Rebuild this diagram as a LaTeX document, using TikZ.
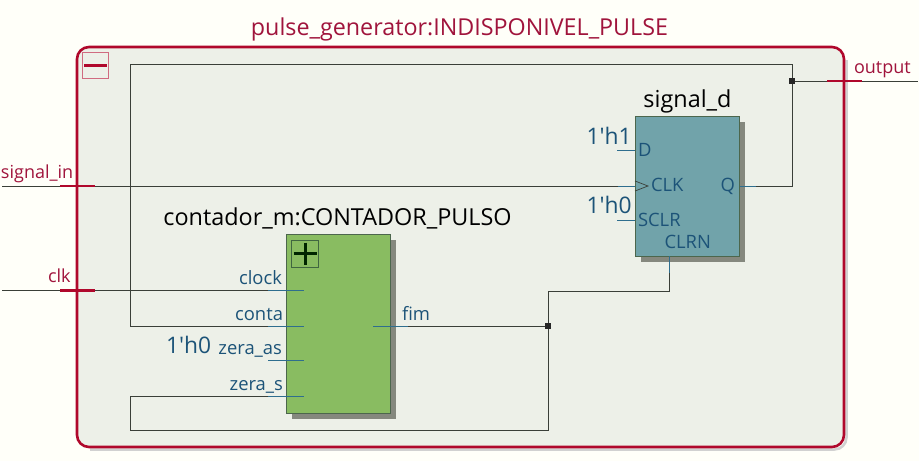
\documentclass[tikz,border=0pt]{standalone}
\usepackage{fontspec}
\setmainfont{Open Sans}
\newfontfamily\constf{Open Sans}
\definecolor{bgc}{HTML}{FFFFF9}
\definecolor{panel}{HTML}{EDF0E8}
\definecolor{redc}{HTML}{B0082C}
\definecolor{redt}{HTML}{A0143C}
\definecolor{wirec}{HTML}{3A3F38}
\definecolor{stubc}{HTML}{2F6E8E}
\definecolor{bluet}{HTML}{1C5378}
\definecolor{shadowc}{HTML}{85887E}
\definecolor{regc}{HTML}{71A3AA}
\definecolor{subc}{HTML}{89BC61}
\tikzset{
 x=1pt,y=-1pt,
 every node/.append style={outer sep=0pt},
 wire/.style={draw=wirec,line width=1pt},
 stub/.style={draw=stubc,line width=1pt},
 tick/.style={draw=redc,line width=2.4pt},
 junction/.style={fill=black!85,minimum size=6pt,inner sep=0pt,draw=none},
 redlabel/.style={text=redt,font=\fontsize{18}{20}\selectfont,inner sep=0pt},
 port/.style={text=bluet,font=\fontsize{18.4}{20}\selectfont,inner sep=0pt},
 const/.style={text=bluet,font=\constf\fontsize{22.8}{24}\selectfont,inner sep=0pt},
 title/.style={text=black,font=\fontsize{23.4}{26}\selectfont,inner sep=0pt},
 blockbox/.style={draw=black!75!green!40!gray,line width=1pt,inner sep=0pt,anchor=north west},
}
\begin{document}
\begin{tikzpicture}
\useasboundingbox[fill=bgc] (0,0) rectangle (919,461);
% outer frame
\draw[draw=black!18,line width=2.5pt,rounded corners=12pt] (846.5,60) -- (846.5,449.5) -- (90,449.5);
\node[draw=redc,fill=panel,line width=2.6pt,rounded corners=12pt,minimum width=767pt,minimum height=400pt,inner sep=0pt,anchor=north west] (frame) at (77,47) {};
\node[redlabel,font=\fontsize{23.3}{26}\selectfont] (ftitle) at (459.5,29.5) {pulse\_generator:INDISPONIVEL\_PULSE};
% collapse box
\node[draw=redc!60,line width=0.8pt,minimum size=26.5pt,inner sep=0pt,anchor=north west] (minusbox) at (82,52) {};
\draw[draw=redc,line width=3pt] (84,65) -- (106.5,65);
% coordinates
\coordinate (inS) at (2,186);
\coordinate (inC) at (2,290.5);
\coordinate (outE) at (918,81);
\coordinate (topL) at (130,64);
\coordinate (topR) at (792,64);
\coordinate (cornerQ) at (792,186);
\coordinate (loopBL) at (130,430);
\coordinate (loopBR) at (548,430);
\coordinate (loopTL) at (130,396);
\coordinate (midL) at (130,326);
\coordinate (stepA) at (548,291);
\coordinate (stepB) at (669.5,291);
% shadows
\fill[shadowc] (640.5,122) rectangle (745,261.5);
\fill[shadowc] (292,240) rectangle (396,419);
% blocks
\node[blockbox,fill=regc,minimum width=104.5pt,minimum height=139.5pt] (reg) at (635,116.5) {};
\node[blockbox,fill=subc,minimum width=104pt,minimum height=179pt] (sub) at (286.5,234.5) {};
\node[draw=black!70!green!50!gray,line width=0.9pt,minimum size=27pt,inner sep=0pt,anchor=north west] (plusbox) at (291,240) {};
\draw[draw=black!85!green,line width=3pt] (293.5,253.5) -- (316.5,253.5) (305,242.5) -- (305,264.5);
% port coordinates
\coordinate (pClk) at (304,290.5);
\coordinate (pConta) at (304,326);
\coordinate (pZas) at (304,360.5);
\coordinate (pZs) at (304,396);
\coordinate (pFim) at (373,326);
\coordinate (sClk) at (268,290.5);
\coordinate (sConta) at (268,326);
\coordinate (sZas) at (268,360.5);
\coordinate (sZs) at (268,396);
\coordinate (sFim) at (408,326);
\coordinate (rD) at (617,150.5);
\coordinate (rD2) at (635,150.5);
\coordinate (rC) at (618,186);
\coordinate (rC2) at (635,186);
\coordinate (rS) at (617,220.5);
\coordinate (rS2) at (635,220.5);
\coordinate (rQ) at (739.5,186);
\coordinate (rQ2) at (756,186);
\coordinate (rR) at (669.5,256);
\coordinate (rR2) at (669.5,273);
% wires
\draw[wire] (inS) -- (rC);
\draw[wire] (inC) -- (sClk);
\draw[wire] (sConta) -- (midL) -- (topL) -- (topR) -- (cornerQ) -- (rQ2);
\draw[wire] (sFim) -- (loopBR |- sFim) -- (stepA) -- (stepB) -- (rR2);
\draw[wire] (loopBR |- sFim) -- (loopBR) -- (loopBL) -- (loopTL) -- (sZs);
\draw[wire] (topR |- outE) -- (outE);
% stubs
\draw[stub] (sClk) -- (pClk);
\draw[stub] (sConta) -- (pConta);
\draw[stub] (sZas) -- (pZas);
\draw[stub] (sZs) -- (pZs);
\draw[stub] (pFim) -- (sFim);
\draw[stub] (rD) -- (rD2);
\draw[stub] (rC) -- (rC2);
\draw[stub] (rS) -- (rS2);
\draw[stub] (rQ) -- (rQ2);
\draw[stub] (rR) -- (rR2);
\draw[draw=wirec,line width=0.7pt] (635,181) -- (648,186) -- (635,191);
% junctions
\node[junction] (j1) at (792,81) {};
\node[junction] (j2) at (548,326) {};
% io ticks
\draw[tick] (60,186) -- (95,186);
\draw[tick] (60,290.5) -- (95,290.5);
\draw[tick] (827,81) -- (861.5,81);
% labels
\node[redlabel,anchor=base west] (lsig) at (1,178.5) {signal\_in};
\node[redlabel,anchor=base west] (lclk) at (48,282.5) {clk};
\node[redlabel,anchor=base west] (lout) at (854,73.5) {output};
\node[title,anchor=base] (treg) at (687.5,107.5) {signal\_d};
\node[title,anchor=base] (tsub) at (337.5,225.5) {contador\_m:CONTADOR\_PULSO};
\node[const,anchor=base west] (c1) at (586.5,144) {1'h1};
\node[const,anchor=base west] (c2) at (586.5,213) {1'h0};
\node[const,anchor=base west] (c3) at (166,353) {1'h0};
\node[port,anchor=base west] (pd) at (638,156.5) {D};
\node[port,anchor=base west] (pc) at (651,191) {CLK};
\node[port,anchor=base west] (ps) at (638,226) {SCLR};
\node[port,anchor=base west] (pr) at (664.5,248) {CLRN};
\node[port,anchor=base east] (pq) at (735,191) {Q};
\node[port,anchor=base east] (l1) at (282,284.5) {clock};
\node[port,anchor=base east] (l2) at (283,320) {conta};
\node[port,anchor=base east] (l3) at (282,354.5) {zera\_as};
\node[port,anchor=base east] (l4) at (283,390) {zera\_s};
\node[port,anchor=base west] (l5) at (402,320) {fim};
\end{tikzpicture}
\end{document}
